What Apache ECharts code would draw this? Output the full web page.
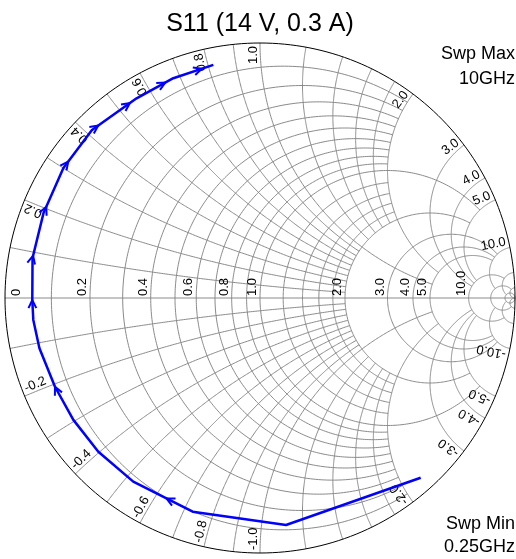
<!DOCTYPE html>
<html>
<head>
<meta charset="utf-8">
<script src="https://cdn.jsdelivr.net/npm/echarts@6/dist/echarts.min.js"></script>
<style>
  html, body { margin: 0; padding: 0; background: #fff; }
  #chart { width: 516px; height: 559px; }
</style>
</head>
<body>
<div id="chart"></div>
<script>
// S11 trace in the reflection-coefficient plane, sweep 0.25 GHz -> 10 GHz
const s11Re = [0.630, 0.102, -0.264, -0.497, -0.634, -0.732, -0.804, -0.865, -0.889, -0.893, -0.892, -0.849, -0.771, -0.659, -0.484, -0.340, -0.183];
const s11Im = [-0.705, -0.890, -0.838, -0.720, -0.603, -0.478, -0.348, -0.197, -0.086, -0.008, 0.157, 0.333, 0.510, 0.659, 0.783, 0.862, 0.914];

// sweep-direction arrows: trace segment index + fraction along it
const arrowAt = [2.44, 6.0, 9.0, 10.05, 11.14, 12.17, 13.14, 13.85, 14.78, 15.71];

// Smith grid: circle values and how far each one runs along the other family
const gridValues = [0.1, 0.2, 0.3, 0.4, 0.5, 0.6, 0.7, 0.8, 0.9, 1.0, 1.2, 1.4, 1.6, 1.8, 2.0, 3, 4, 5, 10, 20, 50];
const gridExtent = [2, 2, 2, 2, 2, 2, 2, 2, 2, 5, 2, 2, 2, 2, 5, 10, 10, 10, 20, 50, Infinity];

// labelled resistance (real axis) and reactance (rim) values
const axisLabels = [0, 0.2, 0.4, 0.6, 0.8, 1.0, 2.0, 3.0, 4.0, 5.0, 10.0];
const rimLabels = [0.2, 0.4, 0.6, 0.8, 1.0, 2.0, 3.0, 4.0, 5.0, 10.0];

const titleText = 'S11 (14 V, 0.3 A)';
const sweepMax = ['Swp Max', '10GHz'];
const sweepMin = ['Swp Min', '0.25GHz'];

const FONT = '"Liberation Sans", Arial, Helvetica, sans-serif';
const GRID_COLOR = '#8a8a8a';
const TRACE_COLOR = '#0000ff';
const TWO_PI = Math.PI * 2;

// normalised impedance -> reflection coefficient
function gamma(r, x) {
  const den = (r + 1) * (r + 1) + x * x;
  return [(r * r + x * x - 1) / den, (2 * x) / den];
}
function norm(a) { return ((a % TWO_PI) + TWO_PI) % TWO_PI; }

function resistanceArc(r, lim) {
  const c = r / (1 + r), rho = 1 / (1 + r);
  let a0 = 0;
  if (isFinite(lim)) {
    const g = gamma(r, lim);
    a0 = Math.atan2(g[1], g[0] - c);
  }
  const a1 = TWO_PI - a0, n = 260, pts = [];
  for (let i = 0; i <= n; i++) {
    const a = a0 + (a1 - a0) * i / n;
    pts.push([c + rho * Math.cos(a), rho * Math.sin(a)]);
  }
  return pts;
}

function reactanceArc(x, lim) {
  const ax = Math.abs(x), cy = 1 / ax, rho = 1 / ax;
  const g0 = gamma(0, ax);
  const b0 = norm(Math.atan2(g0[1] - cy, g0[0] - 1));
  let b1 = 1.5 * Math.PI;
  if (isFinite(lim)) {
    const gl = gamma(lim, ax);
    b1 = norm(Math.atan2(gl[1] - cy, gl[0] - 1));
  }
  const n = 200, pts = [], s = x < 0 ? -1 : 1;
  for (let i = 0; i <= n; i++) {
    const b = b0 + (b1 - b0) * i / n;
    pts.push([1 + rho * Math.cos(b), s * (cy + rho * Math.sin(b))]);
  }
  return pts;
}

// every grid curve as a list of points in the Gamma plane
const gridCurves = [];
gridValues.forEach((v, i) => {
  gridCurves.push({ pts: resistanceArc(v, gridExtent[i]), color: GRID_COLOR });
  gridCurves.push({ pts: reactanceArc(v, gridExtent[i]), color: GRID_COLOR });
  gridCurves.push({ pts: reactanceArc(-v, gridExtent[i]), color: GRID_COLOR });
});
gridCurves.push({ pts: [[-1, 0], [1, 0]], color: GRID_COLOR });
gridCurves.push({ pts: resistanceArc(0, Infinity), color: '#000' });

const tracePoints = s11Re.map((re, i) => [re, s11Im[i]]);

function pointAlong(p) {
  const last = tracePoints.length - 1;
  p = Math.max(0, Math.min(last, p));
  let k = Math.floor(p);
  if (k >= last) k = last - 1;
  const t = p - k, a = tracePoints[k], b = tracePoints[k + 1];
  return [a[0] + (b[0] - a[0]) * t, a[1] + (b[1] - a[1]) * t];
}

const chart = echarts.init(document.getElementById('chart'));

const option = {
  animation: false,
  backgroundColor: '#fff',
  grid: { left: 5, top: 43, width: 510, height: 510, containLabel: false },
  xAxis: { type: 'value', min: -1, max: 1, show: false },
  yAxis: { type: 'value', min: -1, max: 1, show: false },
  graphic: [
    { type: 'text', x: 260, y: 24, silent: true,
      style: { text: titleText, font: '25px ' + FONT, fill: '#000', align: 'center', verticalAlign: 'middle' } },
    { type: 'text', x: 515, y: 54, silent: true,
      style: { text: sweepMax[0], font: '18px ' + FONT, fill: '#000', align: 'right', verticalAlign: 'middle' } },
    { type: 'text', x: 515, y: 79, silent: true,
      style: { text: sweepMax[1], font: '18px ' + FONT, fill: '#000', align: 'right', verticalAlign: 'middle' } },
    { type: 'text', x: 515, y: 524, silent: true,
      style: { text: sweepMin[0], font: '18px ' + FONT, fill: '#000', align: 'right', verticalAlign: 'middle' } },
    { type: 'text', x: 515, y: 547, silent: true,
      style: { text: sweepMin[1], font: '18px ' + FONT, fill: '#000', align: 'right', verticalAlign: 'middle' } }
  ],
  series: [
    {
      // Smith chart grid
      type: 'custom',
      coordinateSystem: 'cartesian2d',
      silent: true,
      clip: false,
      z: 1,
      data: gridCurves.map(() => [0, 0]),
      renderItem: function (params, api) {
        const c = gridCurves[params.dataIndex];
        return {
          type: 'polyline',
          shape: { points: c.pts.map(p => api.coord(p)) },
          style: { stroke: c.color, lineWidth: 1, fill: null }
        };
      }
    },
    {
      // value labels on the real axis and around the rim
      type: 'custom',
      coordinateSystem: 'cartesian2d',
      silent: true,
      clip: false,
      z: 2,
      data: [[0, 0]],
      renderItem: function (params, api) {
        const children = [];
        const font = '13px ' + FONT;
        axisLabels.forEach(r => {
          const g = gamma(r, 0);
          const p = api.coord([g[0], 0]);
          const dx = r === 0 ? 18 : -1;
          children.push({
            type: 'text', x: p[0] + dx, y: p[1] - 2, rotation: Math.PI / 2,
            style: { text: r.toFixed(r === 0 ? 0 : 1), font: font, fill: '#000', align: 'left', verticalAlign: 'bottom' }
          });
        });
        const o = api.coord([0, 0]);
        const rad = api.coord([1, 0])[0] - o[0];
        rimLabels.forEach(v => {
          [v, -v].forEach(x => {
            const g = gamma(0, x);
            const th = Math.atan2(g[1], g[0]);
            const rr = rad - 3;
            const px = o[0] + rr * Math.cos(th), py = o[1] - rr * Math.sin(th);
            const upper = x > 0;
            children.push({
              type: 'text', x: px, y: py, rotation: upper ? th : th + Math.PI,
              style: { text: x.toFixed(1), font: font, fill: '#000',
                       align: upper ? 'right' : 'left', verticalAlign: 'bottom' }
            });
          });
        });
        return { type: 'group', children: children };
      }
    },
    {
      name: 'S11',
      type: 'line',
      data: tracePoints,
      showSymbol: false,
      smooth: false,
      silent: true,
      clip: false,
      z: 3,
      lineStyle: { color: TRACE_COLOR, width: 2.5 }
    },
    {
      // sweep-direction arrowheads on the trace
      type: 'custom',
      coordinateSystem: 'cartesian2d',
      silent: true,
      clip: false,
      z: 4,
      data: arrowAt.map(() => [0, 0]),
      renderItem: function (params, api) {
        const p = arrowAt[params.dataIndex];
        const tip = api.coord(pointAlong(p));
        const a = api.coord(pointAlong(p - 0.03));
        const b = api.coord(pointAlong(p + 0.03));
        let dx = b[0] - a[0], dy = b[1] - a[1];
        const len = Math.hypot(dx, dy) || 1;
        dx /= len; dy /= len;
        const L = 9, ang = 0.45;
        const arm = s => {
          const bx = -dx, by = -dy, c = Math.cos(s * ang), sn = Math.sin(s * ang);
          return [tip[0] + L * (bx * c - by * sn), tip[1] + L * (bx * sn + by * c)];
        };
        return {
          type: 'polyline',
          shape: { points: [arm(1), tip, arm(-1)] },
          style: { stroke: TRACE_COLOR, lineWidth: 2, fill: null, lineJoin: 'miter' }
        };
      }
    }
  ]
};

chart.setOption(option);
</script>
</body>
</html>
